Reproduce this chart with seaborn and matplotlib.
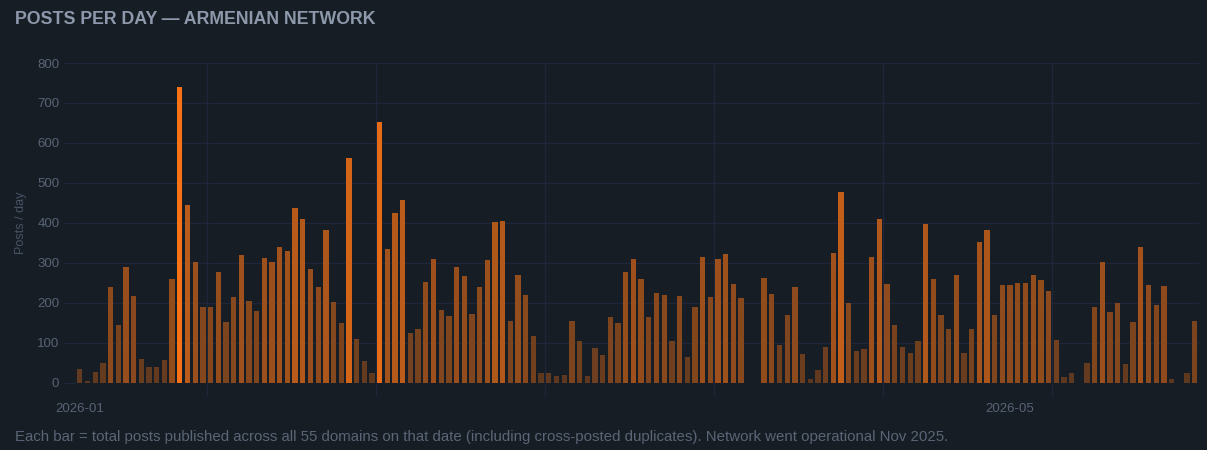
import numpy as np
import pandas as pd
import matplotlib
matplotlib.use("Agg")
import matplotlib.pyplot as plt
import seaborn as sns
from matplotlib.colors import to_rgb, to_hex

# ---- data ----
posts = [
    34, 4, 26, 48, 238, 143, 289, 217, 60, 38,
    40, 57, 259, 740, 444, 301, 190, 190, 276, 152,
    214, 318, 203, 180, 312, 301, 339, 330, 438, 410,
    284, 240, 383, 201, 148, 562, 108, 53, 24, 652,
    335, 424, 456, 124, 135, 251, 310, 181, 166, 288,
    267, 171, 239, 307, 401, 404, 154, 269, 218, 117,
    24, 24, 16, 18, 154, 104, 16, 87, 69, 165,
    150, 276, 310, 258, 164, 223, 220, 103, 216, 65,
    188, 313, 214, 310, 323, 246, 212, 0, 0, 261,
    222, 94, 170, 238, 72, 8, 32, 88, 324, 478,
    199, 78, 84, 314, 410, 246, 143, 89, 74, 104,
    398, 259, 170, 134, 269, 74, 134, 351, 382, 170,
    244, 243, 249, 249, 268, 256, 229, 107, 13, 24,
    0, 48, 188, 302, 176, 198, 46, 152, 340, 243,
    194, 241, 8, 0, 24, 153,
]
days = pd.date_range("2026-01-01", periods=len(posts), freq="D").strftime("%Y-%m-%d")
tick_labels = ["2026-01", "2026-05"]
y_ticks = [0, 100, 200, 300, 400, 500, 600, 700, 800]

# ---- style ----
BG = "#161d24"
GRID = "#1f2639"
ORANGE = "#f97316"
TICK_C = "#586375"
TITLE_C = "#8d98ab"
NOTE_C = "#5a6576"

sns.set_theme(style="dark")
plt.rcParams["font.family"] = ["Liberation Sans", "DejaVu Sans"]

def bar_color(v, vmax):
    a = 0.30 + 0.70 * (v / vmax)
    o = np.array(to_rgb(ORANGE))
    b = np.array(to_rgb(BG))
    return to_hex(b + a * (o - b))

vmax = max(posts)
df = pd.DataFrame({"day": days, "posts": posts})
palette = {d: bar_color(v, vmax) for d, v in zip(df["day"], df["posts"])}

W, H = 1207, 450
fig = plt.figure(figsize=(W / 100, H / 100), dpi=100, facecolor=BG)
ax = fig.add_axes([76 / W, 1 - 382.5 / H, (1198.5 - 76) / W, (382.5 - 63) / H])
ax.set_facecolor(BG)

sns.barplot(data=df, x="day", y="posts", hue="day", palette=palette,
            width=0.69, saturation=1, legend=False, ax=ax, linewidth=0)

n = len(posts)
ax.set_xlim(-0.5, n - 0.5)
ax.set_ylim(0, 800)
ax.set_yticks(y_ticks)
ax.set_xticks([0, 121], tick_labels)
ax.set_xticks(np.arange(16.5, n, 22), minor=True)

ax.set_axisbelow(True)
ax.grid(False)
ax.grid(axis="y", which="major", color=GRID, linewidth=1)
ax.grid(axis="x", which="minor", color=GRID, linewidth=1)

ax.tick_params(axis="x", which="major", length=0, pad=15, labelsize=9.5, labelcolor=TICK_C)
ax.tick_params(axis="x", which="minor", length=9, width=1, color=GRID)
ax.tick_params(axis="y", which="major", length=9, width=1, color=GRID, pad=3,
               labelsize=9.5, labelcolor=TICK_C)
ax.tick_params(left=True, bottom=True, which="both")
for s in ax.spines.values():
    s.set_visible(False)

ax.set_xlabel("")
ax.set_ylabel("Posts / day", color="#485366", fontsize=9)
ax.yaxis.set_label_coords((27 - 76) / (1198.5 - 76), 0.5)

fig.text(15 / W, 1 - 20 / H, "POSTS PER DAY — ARMENIAN NETWORK", ha="left", va="center",
         fontsize=12.8, fontweight="bold", color=TITLE_C)
fig.text(15 / W, 1 - 437 / H,
         "Each bar = total posts published across all 55 domains on that date "
         "(including cross-posted duplicates). Network went operational Nov 2025.",
         ha="left", va="center", fontsize=10.8, color=NOTE_C)

fig.savefig("out.png", dpi=100, facecolor=BG)
